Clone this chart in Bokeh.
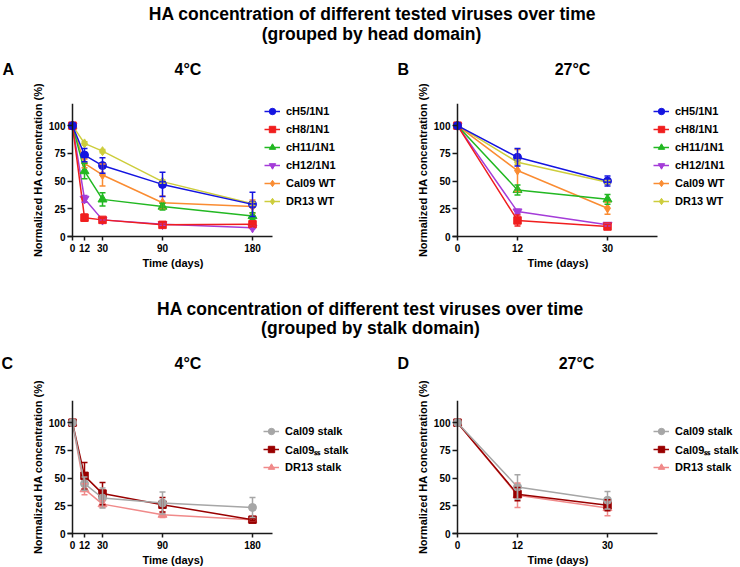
from bokeh.plotting import figure
from bokeh.models import (Range1d, FixedTicker, Legend, LegendItem, Whisker,
                          TeeHead, ColumnDataSource, Span, Title)
from bokeh.layouts import column, row
from bokeh.embed import file_html
from bokeh.resources import INLINE
from bokeh.core.properties import value

FONT = "Liberation Sans"

# ---------------- data ----------------
days_long = [0, 12, 30, 90, 180]
days_short = [0, 12, 30]
y_ticks = [0, 25, 50, 75, 100]

head_names = ["cH5/1N1", "cH8/1N1", "cH11/1N1", "cH12/1N1", "Cal09 WT", "DR13 WT"]
head_colors = ["#1414E0", "#F01E1E", "#22B822", "#A43CD8", "#FA8C32", "#CDCD3C"]
head_markers = ["circle", "square", "triangle", "inverted_triangle", "diamond", "diamond"]
head_sizes = [8, 7.5, 9, 9, 9, 9]

# Panel A: 4 °C, grouped by head domain (mean, error)
a_cH5 = [100, 73.5, 64, 47, 29]
a_cH5_err = [0, 6, 7, 11, 11]
a_cH8 = [100, 17, 15, 10.5, 11]
a_cH8_err = [0, 3, 1.5, 2, 2]
a_cH11 = [100, 59, 33.5, 27, 18.5]
a_cH11_err = [0, 7, 6, 3, 3]
a_cH12 = [100, 34, 15, 11, 8]
a_cH12_err = [0, 3, 1, 1, 1]
a_cal09 = [100, 66, 55.5, 30.5, 27]
a_cal09_err = [0, 4, 10, 6, 6]
a_dr13 = [100, 84, 77, 49.5, 29.5]
a_dr13_err = [0, 1.5, 1.5, 1.5, 1.5]

# Panel B: 27 °C, grouped by head domain
b_cH5 = [100, 71.5, 50]
b_cH5_err = [0, 8, 4.5]
b_cH8 = [100, 14.5, 9]
b_cH8_err = [0, 5, 2]
b_cH11 = [100, 42, 33.5]
b_cH11_err = [0, 4.5, 4.5]
b_cH12 = [100, 22.5, 10.5]
b_cH12_err = [0, 2, 1]
b_cal09 = [100, 59.5, 25.5]
b_cal09_err = [0, 19, 5.5]
b_dr13 = [100, 67, 49]
b_dr13_err = [0, 2, 1.5]

stalk_names = ["Cal09 stalk", "Cal09\u209b\u209b stalk", "DR13 stalk"]
stalk_colors = ["#A6A6A6", "#990000", "#F08A8A"]
stalk_markers = ["circle", "square", "triangle"]
stalk_sizes = [8, 7.5, 9]

# Panel C: 4 °C, grouped by stalk domain
c_cal09 = [100, 45, 32, 27.5, 23.5]
c_cal09_err = [0, 6, 9, 10, 9]
c_cal09ss = [100, 52, 36, 26, 12.5]
c_cal09ss_err = [0, 12, 10, 6.5, 1]
c_dr13 = [100, 40, 26.5, 17, 12.5]
c_dr13_err = [0, 5, 3, 2.5, 1]

# Panel D: 27 °C, grouped by stalk domain
d_cal09 = [100, 42, 30]
d_cal09_err = [0, 11, 8]
d_cal09ss = [100, 35.5, 25.5]
d_cal09ss_err = [0, 6, 5]
d_dr13 = [100, 34.5, 23]
d_dr13_err = [0, 11, 7]

AXIS_COLOR = "#1a1a1a"


def panel(days, x_range, x_bounds, x_ticks, series, errors, names, colors,
          markers, sizes, width, left, top, bottom, legend_xy, xlabel_offset):
    p = figure(width=width, height=top + 133 + bottom,
               x_range=Range1d(*x_range), y_range=Range1d(0, 120),
               output_backend="svg", toolbar_location=None,
               min_border_left=left, min_border_right=0,
               min_border_top=top, min_border_bottom=bottom)
    p.outline_line_color = None
    p.grid.grid_line_color = None

    p.xaxis.ticker = FixedTicker(ticks=x_ticks)
    p.xaxis.bounds = x_bounds
    p.yaxis.ticker = FixedTicker(ticks=y_ticks)
    p.yaxis.axis_label = "Normalized HA concentration (%)"
    for ax in (p.xaxis, p.yaxis):
        ax.axis_line_width = 1.5
        ax.axis_line_color = AXIS_COLOR
        ax.major_tick_line_width = 1.5
        ax.major_tick_line_color = AXIS_COLOR
        ax.minor_tick_line_color = None
        ax.major_label_text_font = FONT
        ax.major_label_text_font_size = "10px"
        ax.major_label_text_font_style = "bold"
        ax.major_label_text_color = "black"
        ax.axis_label_text_font = FONT
        ax.axis_label_text_font_size = "11px"
        ax.axis_label_text_font_style = "bold"
        ax.axis_label_text_color = "black"
    p.xaxis.major_tick_out = 4
    p.xaxis.major_tick_in = 0
    p.xaxis.major_label_standoff = 3
    # the y axis line sits at day 0, ticks reach from the frame edge to it
    p.yaxis.axis_line_color = None
    p.yaxis.major_tick_out = 0
    p.yaxis.major_tick_in = 5
    p.yaxis.major_label_standoff = 2
    p.yaxis.axis_label_standoff = 2
    p.add_layout(Span(location=0, dimension="height", line_color=AXIS_COLOR,
                      line_width=1.5))
    # x axis title, centred under the drawn part of the x axis
    p.add_layout(Title(text="Time (days)", align="left", offset=xlabel_offset,
                       text_font=FONT, text_font_size="11px",
                       text_font_style="bold", text_color="black",
                       standoff=0), "below")

    items = []
    for i in reversed(range(len(series))):
        vals, errs, c = series[i], errors[i], colors[i]
        src = ColumnDataSource(dict(x=days, y=vals))
        wx = [d for d, e in zip(days, errs) if e > 0]
        wu = [v + e for v, e in zip(vals, errs) if e > 0]
        wl = [v - e for v, e in zip(vals, errs) if e > 0]
        wsrc = ColumnDataSource(dict(x=wx, upper=wu, lower=wl))
        w = Whisker(source=wsrc, base="x", upper="upper", lower="lower",
                    line_color=c, line_width=1.5,
                    upper_head=TeeHead(size=6, line_color=c, line_width=1.5),
                    lower_head=TeeHead(size=6, line_color=c, line_width=1.5))
        w.level = "glyph"
        p.add_layout(w)
        ln = p.line("x", "y", source=src, line_color=c, line_width=1.5)
        sc = p.scatter("x", "y", source=src, marker=markers[i], size=sizes[i],
                       fill_color=c, line_color=c)
        items.insert(0, LegendItem(label=names[i], renderers=[ln, sc]))

    legend = Legend(items=items, location=legend_xy)
    legend.padding = 0
    legend.margin = 0
    legend.border_line_color = None
    legend.background_fill_alpha = 0
    legend.glyph_width = 16
    legend.glyph_height = 18
    legend.label_height = 18
    legend.spacing = 0
    legend.label_standoff = 6
    legend.label_text_font = FONT
    legend.label_text_font_size = "11px"
    legend.label_text_font_style = "bold"
    legend.label_text_color = "black"
    p.add_layout(legend)
    return p


def header(height, y_top, xs, ys, texts, aligns, sizes):
    h = figure(width=740, height=height,
               x_range=Range1d(0, 740), y_range=Range1d(y_top + height, y_top),
               output_backend="svg", toolbar_location=None, min_border=0,
               x_axis_location=None, y_axis_location=None)
    h.outline_line_color = None
    h.grid.grid_line_color = None
    for x, y, t, a, s in zip(xs, ys, texts, aligns, sizes):
        h.text(x=[x], y=[y], text=[t], text_align=a, text_baseline="alphabetic",
               text_font=value(FONT), text_font_style="bold",
               text_font_size=s, text_color="black")
    return h


h1 = header(78, 0,
            [372, 371, 2, 187.5, 397, 572],
            [13.5, 33, 68.5, 68.5, 68.5, 68.5],
            ["HA concentration of different tested viruses over time",
             "(grouped by head domain)", "A", "4\u00b0C", "B", "27\u00b0C"],
            ["center", "center", "left", "center", "left", "center"],
            ["17.5px", "17.5px", "16px", "16px", "16px", "16px"])

pa = panel(days_long, (-5, 298), (-5, 200), days_long,
           [a_cH5, a_cH8, a_cH11, a_cH12, a_cal09, a_dr13],
           [a_cH5_err, a_cH8_err, a_cH11_err, a_cH12_err, a_cal09_err, a_dr13_err],
           head_names, head_colors, head_markers, head_sizes,
           370, 67, 25, 38, (197, 26), 75)
pb = panel(days_short, (-1, 56.6), (-1, 40), days_short,
           [b_cH5, b_cH8, b_cH11, b_cH12, b_cal09, b_dr13],
           [b_cH5_err, b_cH8_err, b_cH11_err, b_cH12_err, b_cal09_err, b_dr13_err],
           head_names, head_colors, head_markers, head_sizes,
           370, 82, 25, 38, (201, 26), 75)

h2 = header(103, 274,
            [370, 370, 1, 187.5, 397, 576],
            [308, 327, 363, 363, 363, 363],
            ["HA concentration of different test viruses over time",
             "(grouped by stalk domain)", "C", "4\u00b0C", "D", "27\u00b0C"],
            ["center", "center", "left", "center", "left", "center"],
            ["17.5px", "17.5px", "16px", "16px", "16px", "16px"])

pc = panel(days_long, (-5, 298), (-5, 200), days_long,
           [c_cal09, c_cal09ss, c_dr13],
           [c_cal09_err, c_cal09ss_err, c_dr13_err],
           stalk_names, stalk_colors, stalk_markers, stalk_sizes,
           370, 67, 23, 34, (196, 57), 75)
pd_ = panel(days_short, (-1, 56.6), (-1, 40), days_short,
            [d_cal09, d_cal09ss, d_dr13],
            [d_cal09_err, d_cal09ss_err, d_dr13_err],
            stalk_names, stalk_colors, stalk_markers, stalk_sizes,
            370, 82, 23, 34, (201, 57), 75)

layout = column(h1, row(pa, pb), h2, row(pc, pd_))

open("out.html", "w").write(file_html(layout, INLINE))
